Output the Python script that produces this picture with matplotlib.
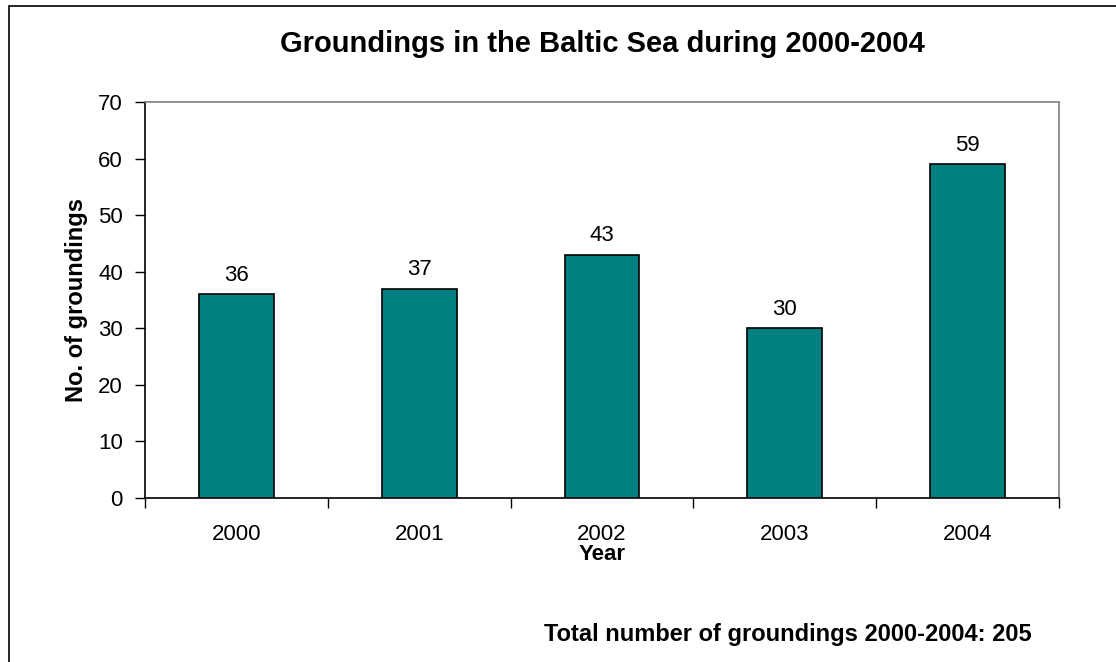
import matplotlib
matplotlib.use("Agg")
import matplotlib.pyplot as plt
from matplotlib.patches import Rectangle

years = ["2000", "2001", "2002", "2003", "2004"]
groundings = [36, 37, 43, 30, 59]
yticks = [0, 10, 20, 30, 40, 50, 60, 70]

plt.rcParams['font.family'] = ['Liberation Sans', 'DejaVu Sans']

W, H = 1116, 662
fig = plt.figure(figsize=(W / 100, H / 100), dpi=100)
fig.patch.set_facecolor('white')

# outer border
fig.add_artist(Rectangle((9 / W, -0.05), 1.2, 1 - 6 / H + 0.05, transform=fig.transFigure,
                         fill=False, edgecolor='black', linewidth=1.2))

ax = fig.add_axes([145 / W, 1 - 498 / H, (1059 - 145) / W, (498 - 102) / H])
x = list(range(len(years)))
ax.bar(x, groundings, width=0.41, color='#008080', edgecolor='black', linewidth=1.2, zorder=3)
for xi, v in zip(x, groundings):
    ax.annotate(str(v), (xi, v), xytext=(0, 6), textcoords='offset points',
                ha='center', va='bottom', fontsize=16)

ax.set_xlim(-0.5, len(years) - 0.5)
ax.set_ylim(0, 70)
ax.set_yticks(yticks)
ax.set_yticklabels([str(t) for t in yticks], fontsize=16)
ax.set_xticks(x)
ax.set_xticklabels(years, fontsize=16)
ax.set_xticks([i - 0.5 for i in range(len(years) + 1)], minor=True)
ax.tick_params(axis='x', which='major', length=0, pad=18.5)
ax.tick_params(axis='x', which='minor', length=7, width=1, direction='out', color='black')
ax.tick_params(axis='y', length=7, width=1, direction='out', pad=9)

for s in ['top', 'right']:
    ax.spines[s].set_color('#808080')
    ax.spines[s].set_linewidth(1.2)
for s in ['left', 'bottom']:
    ax.spines[s].set_color('black')
    ax.spines[s].set_linewidth(1.2)

ax.set_ylabel("No. of groundings", fontsize=17, fontweight='bold', labelpad=7)

fig.text(602 / W, 1 - 555 / H, "Year", ha='center', va='center',
         fontsize=16, fontweight='bold')
fig.text(602 / W, 1 - 44 / H, "Groundings in the Baltic Sea during 2000-2004",
         ha='center', va='center', fontsize=21, fontweight='bold')
fig.text(1032 / W, 1 - 634 / H, "Total number of groundings 2000-2004: 205",
         ha='right', va='center', fontsize=17, fontweight='bold')

fig.savefig("out.png", dpi=100)
